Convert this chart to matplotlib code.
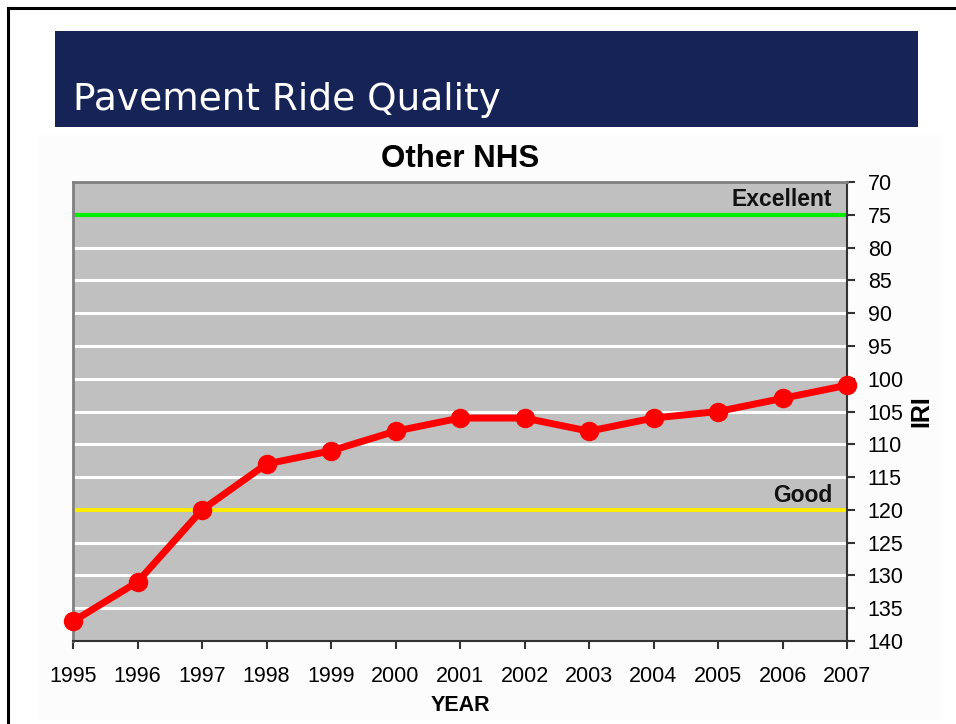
import matplotlib
matplotlib.use("Agg")
import matplotlib.pyplot as plt
from matplotlib.patches import Rectangle
from matplotlib.lines import Line2D

# data
years = [1995, 1996, 1997, 1998, 1999, 2000, 2001, 2002, 2003, 2004, 2005, 2006, 2007]
iri = [137, 131, 120, 113, 111, 108, 106, 106, 108, 106, 105, 103, 101]
excellent_level = 75
good_level = 120
grid_levels = [80, 85, 90, 95, 100, 105, 110, 115, 125, 130, 135]
y_ticks = list(range(70, 141, 5))

W, H = 956, 724
fig = plt.figure(figsize=(W / 100, H / 100), dpi=100)
fig.patch.set_facecolor("white")

def px(x, y):
    return x / W, 1 - y / H

# faint chart area
x0, y0 = px(38, 720)
fig.patches.append(Rectangle((x0, y0), (943 - 38) / W, (720 - 135) / H,
                             transform=fig.transFigure, facecolor="#fcfcfc",
                             edgecolor="none", zorder=-2))

# slide frame
fig.lines.append(Line2D([8 / W, 8 / W], [0, 1 - 8 / H], transform=fig.transFigure,
                        color="black", lw=2.2))
fig.lines.append(Line2D([8 / W, 1], [1 - 8 / H, 1 - 8 / H], transform=fig.transFigure,
                        color="black", lw=2.2))

# title banner
bx, by = px(55, 127)
fig.patches.append(Rectangle((bx, by), (918 - 55) / W, (127 - 31) / H,
                             transform=fig.transFigure, facecolor="#162356",
                             edgecolor="none", zorder=-1))
tx, ty = px(73, 100)
fig.text(tx, ty, "Pavement Ride Quality", color="white", fontsize=27,
         family="DejaVu Sans", va="center", ha="left")

# plot area
l, b = px(73, 641)
ax = fig.add_axes([l, b, (847 - 73) / W, (641 - 182) / H])
ax.set_facecolor("#c0c0c0")
ax.set_xlim(1995, 2007)
ax.set_ylim(140, 70)

for g in grid_levels:
    ax.axhline(g, color="white", lw=2.2, zorder=1)
ax.axhline(excellent_level, color="#00ee00", lw=3, zorder=2)
ax.axhline(good_level, color="#ffee00", lw=2.8, zorder=2)

ax.plot(years, iri, color="#ff0000", lw=5, marker="o", markersize=13,
        clip_on=False, zorder=5)

fnt = "Liberation Sans"
ax.text(2006.77, 74.4, "Excellent", ha="right", va="bottom", fontsize=16.5,
        fontweight="bold", family=fnt, color="#111111")
ax.text(2006.77, 119.5, "Good", ha="right", va="bottom", fontsize=16.5,
        fontweight="bold", family=fnt, color="#111111")

ax.yaxis.tick_right()
ax.yaxis.set_label_position("right")
ax.set_yticks(y_ticks)
ax.set_xticks(years)
ax.tick_params(axis="both", direction="out", length=6, width=1.5, color="#333333",
               labelsize=15.5, pad=9)
for lab in ax.get_xticklabels() + ax.get_yticklabels():
    lab.set_family(fnt)
ax.tick_params(axis="x", pad=12)

for s in ["left", "top"]:
    ax.spines[s].set_color("#808080")
    ax.spines[s].set_linewidth(2)
for s in ["right", "bottom"]:
    ax.spines[s].set_color("#333333")
    ax.spines[s].set_linewidth(1.5)

ax.set_ylabel("IRI", fontsize=18, fontweight="bold", family=fnt, labelpad=4)
ax.set_xlabel("YEAR", fontsize=15.5, fontweight="bold", family=fnt, labelpad=6)
ax.set_title("Other NHS", fontsize=22.5, fontweight="bold", family=fnt, pad=11)

fig.savefig("out.png", dpi=100)
